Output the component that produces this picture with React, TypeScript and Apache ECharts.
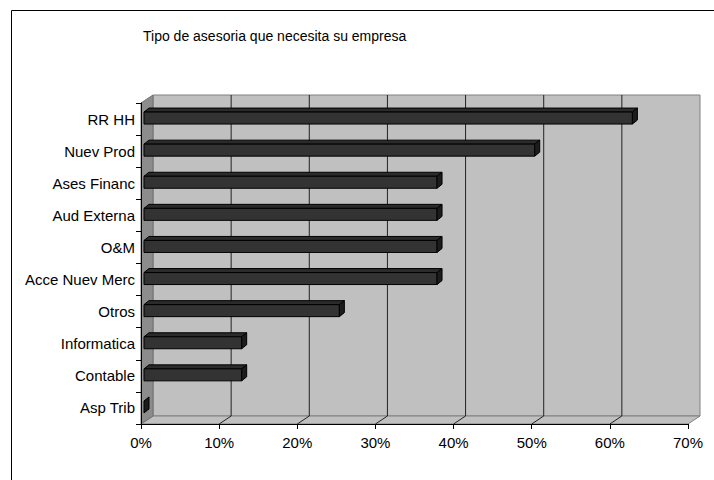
import React, { useEffect, useRef } from "react";
import * as echarts from "echarts";

const titleText = "Tipo de asesoria que necesita su empresa";
const categories = [
  "RR HH",
  "Nuev Prod",
  "Ases Financ",
  "Aud Externa",
  "O&M",
  "Acce Nuev Merc",
  "Otros",
  "Informatica",
  "Contable",
  "Asp Trib",
];
const values = [62.5, 50, 37.5, 37.5, 37.5, 37.5, 25, 12.5, 12.5, 0];
const gridValues = [10, 20, 30, 40, 50, 60];

const FONT = "'Liberation Sans', Arial, sans-serif";
// 3D projection offsets (pixels)
const DX = 12;
const DY = -8;
const BX = 3; // bar front plane offset
const BY = 0;
const BDX = 5; // bar depth
const BDY = -4;

export default function App() {
  const ref = useRef<HTMLDivElement>(null);
  useEffect(() => {
    if (!ref.current) return;
    const chart = echarts.init(ref.current, undefined, { renderer: "svg" });
    const option: any = {
      animation: false,
      backgroundColor: "#ffffff",
      title: {
        text: titleText,
        left: 138,
        top: 24,
        textStyle: { fontFamily: FONT, fontSize: 14, fontWeight: "normal", color: "#000" },
      },
      graphic: [
        {
          type: "rect",
          shape: { x: 11.5, y: 10.5, width: 720, height: 500 },
          style: { fill: "none", stroke: "#000", lineWidth: 1 },
          silent: true,
        },
      ],
      grid: { left: 141, right: 26, top: 103, bottom: 56, containLabel: false },
      xAxis: {
        type: "value",
        min: 0,
        max: 70,
        interval: 10,
        z: 10,
        axisLine: { show: true, lineStyle: { color: "#000", width: 1 } },
        axisTick: { show: true, length: 5, lineStyle: { color: "#000" } },
        splitLine: { show: false },
        axisLabel: {
          formatter: "{value}%",
          fontFamily: FONT,
          fontSize: 15,
          color: "#000",
          margin: 11,
        },
      },
      yAxis: {
        type: "category",
        data: categories,
        inverse: true,
        z: 10,
        axisLine: { show: true, lineStyle: { color: "#000", width: 1 } },
        axisTick: { show: true, length: 5, lineStyle: { color: "#000" } },
        axisLabel: { fontFamily: FONT, fontSize: 15, color: "#000", margin: 6 },
        splitLine: { show: false },
      },
      series: [
        {
          type: "custom",
          z: 1,
          silent: true,
          data: [[0, 0]],
          renderItem: (params: any, api: any) => {
            const cs = params.coordSys;
            const left = cs.x;
            const top = cs.y;
            const right = cs.x + cs.width;
            const bottom = cs.y + cs.height;
            const children: any[] = [];
            // back wall
            children.push({
              type: "rect",
              shape: { x: left + DX, y: top + DY, width: cs.width, height: cs.height },
              style: { fill: "#C0C0C0", stroke: "#808080", lineWidth: 1 },
            });
            // floor
            children.push({
              type: "polygon",
              shape: {
                points: [
                  [left, bottom],
                  [left + DX, bottom + DY],
                  [right + DX, bottom + DY],
                  [right, bottom],
                ],
              },
              style: { fill: "#C0C0C0", stroke: "#808080", lineWidth: 1 },
            });
            // left wall
            children.push({
              type: "polygon",
              shape: {
                points: [
                  [left, top],
                  [left + DX, top + DY],
                  [left + DX, bottom + DY],
                  [left, bottom],
                ],
              },
              style: { fill: "#8C8C8C", stroke: "#707070", lineWidth: 1 },
            });
            gridValues.forEach((v) => {
              const x = api.coord([v, 0])[0];
              children.push({
                type: "line",
                shape: { x1: x + DX, y1: top + DY, x2: x + DX, y2: bottom + DY },
                style: { stroke: "#222", lineWidth: 1 },
              });
              children.push({
                type: "line",
                shape: { x1: x, y1: bottom, x2: x + DX, y2: bottom + DY },
                style: { stroke: "#222", lineWidth: 1 },
              });
            });
            return { type: "group", children };
          },
        },
        {
          type: "custom",
          z: 3,
          data: values.map((v, i) => [v, i]),
          encode: { x: 0, y: 1 },
          renderItem: (params: any, api: any) => {
            const v = api.value(0);
            const i = api.value(1);
            const end = api.coord([v, i]);
            const start = api.coord([0, i]);
            const x0 = start[0] + BX;
            const x1 = end[0] + BX;
            const yc = end[1] + BY;
            const t = yc - 7;
            const b = yc + 5;
            const children: any[] = [];
            if (x1 > x0) {
              children.push({
                type: "polygon",
                shape: {
                  points: [
                    [x0, t],
                    [x0 + BDX, t + BDY],
                    [x1 + BDX, t + BDY],
                    [x1, t],
                  ],
                },
                style: { fill: "#2B2B2B", stroke: "#000", lineWidth: 1 },
              });
              children.push({
                type: "rect",
                shape: { x: x0, y: t, width: x1 - x0, height: b - t },
                style: { fill: "#333333", stroke: "#000", lineWidth: 1 },
              });
            }
            children.push({
              type: "polygon",
              shape: {
                points: [
                  [x1, t],
                  [x1 + BDX, t + BDY],
                  [x1 + BDX, b + BDY],
                  [x1, b],
                ],
              },
              style: { fill: "#1C1C1C", stroke: "#000", lineWidth: 1 },
            });
            return { type: "group", children };
          },
        },
      ],
    };
    chart.setOption(option);
    return () => chart.dispose();
  }, []);
  return (
    <div
      ref={ref}
      style={{ position: "absolute", left: 0, top: 0, width: 714, height: 480 }}
    />
  );
}
